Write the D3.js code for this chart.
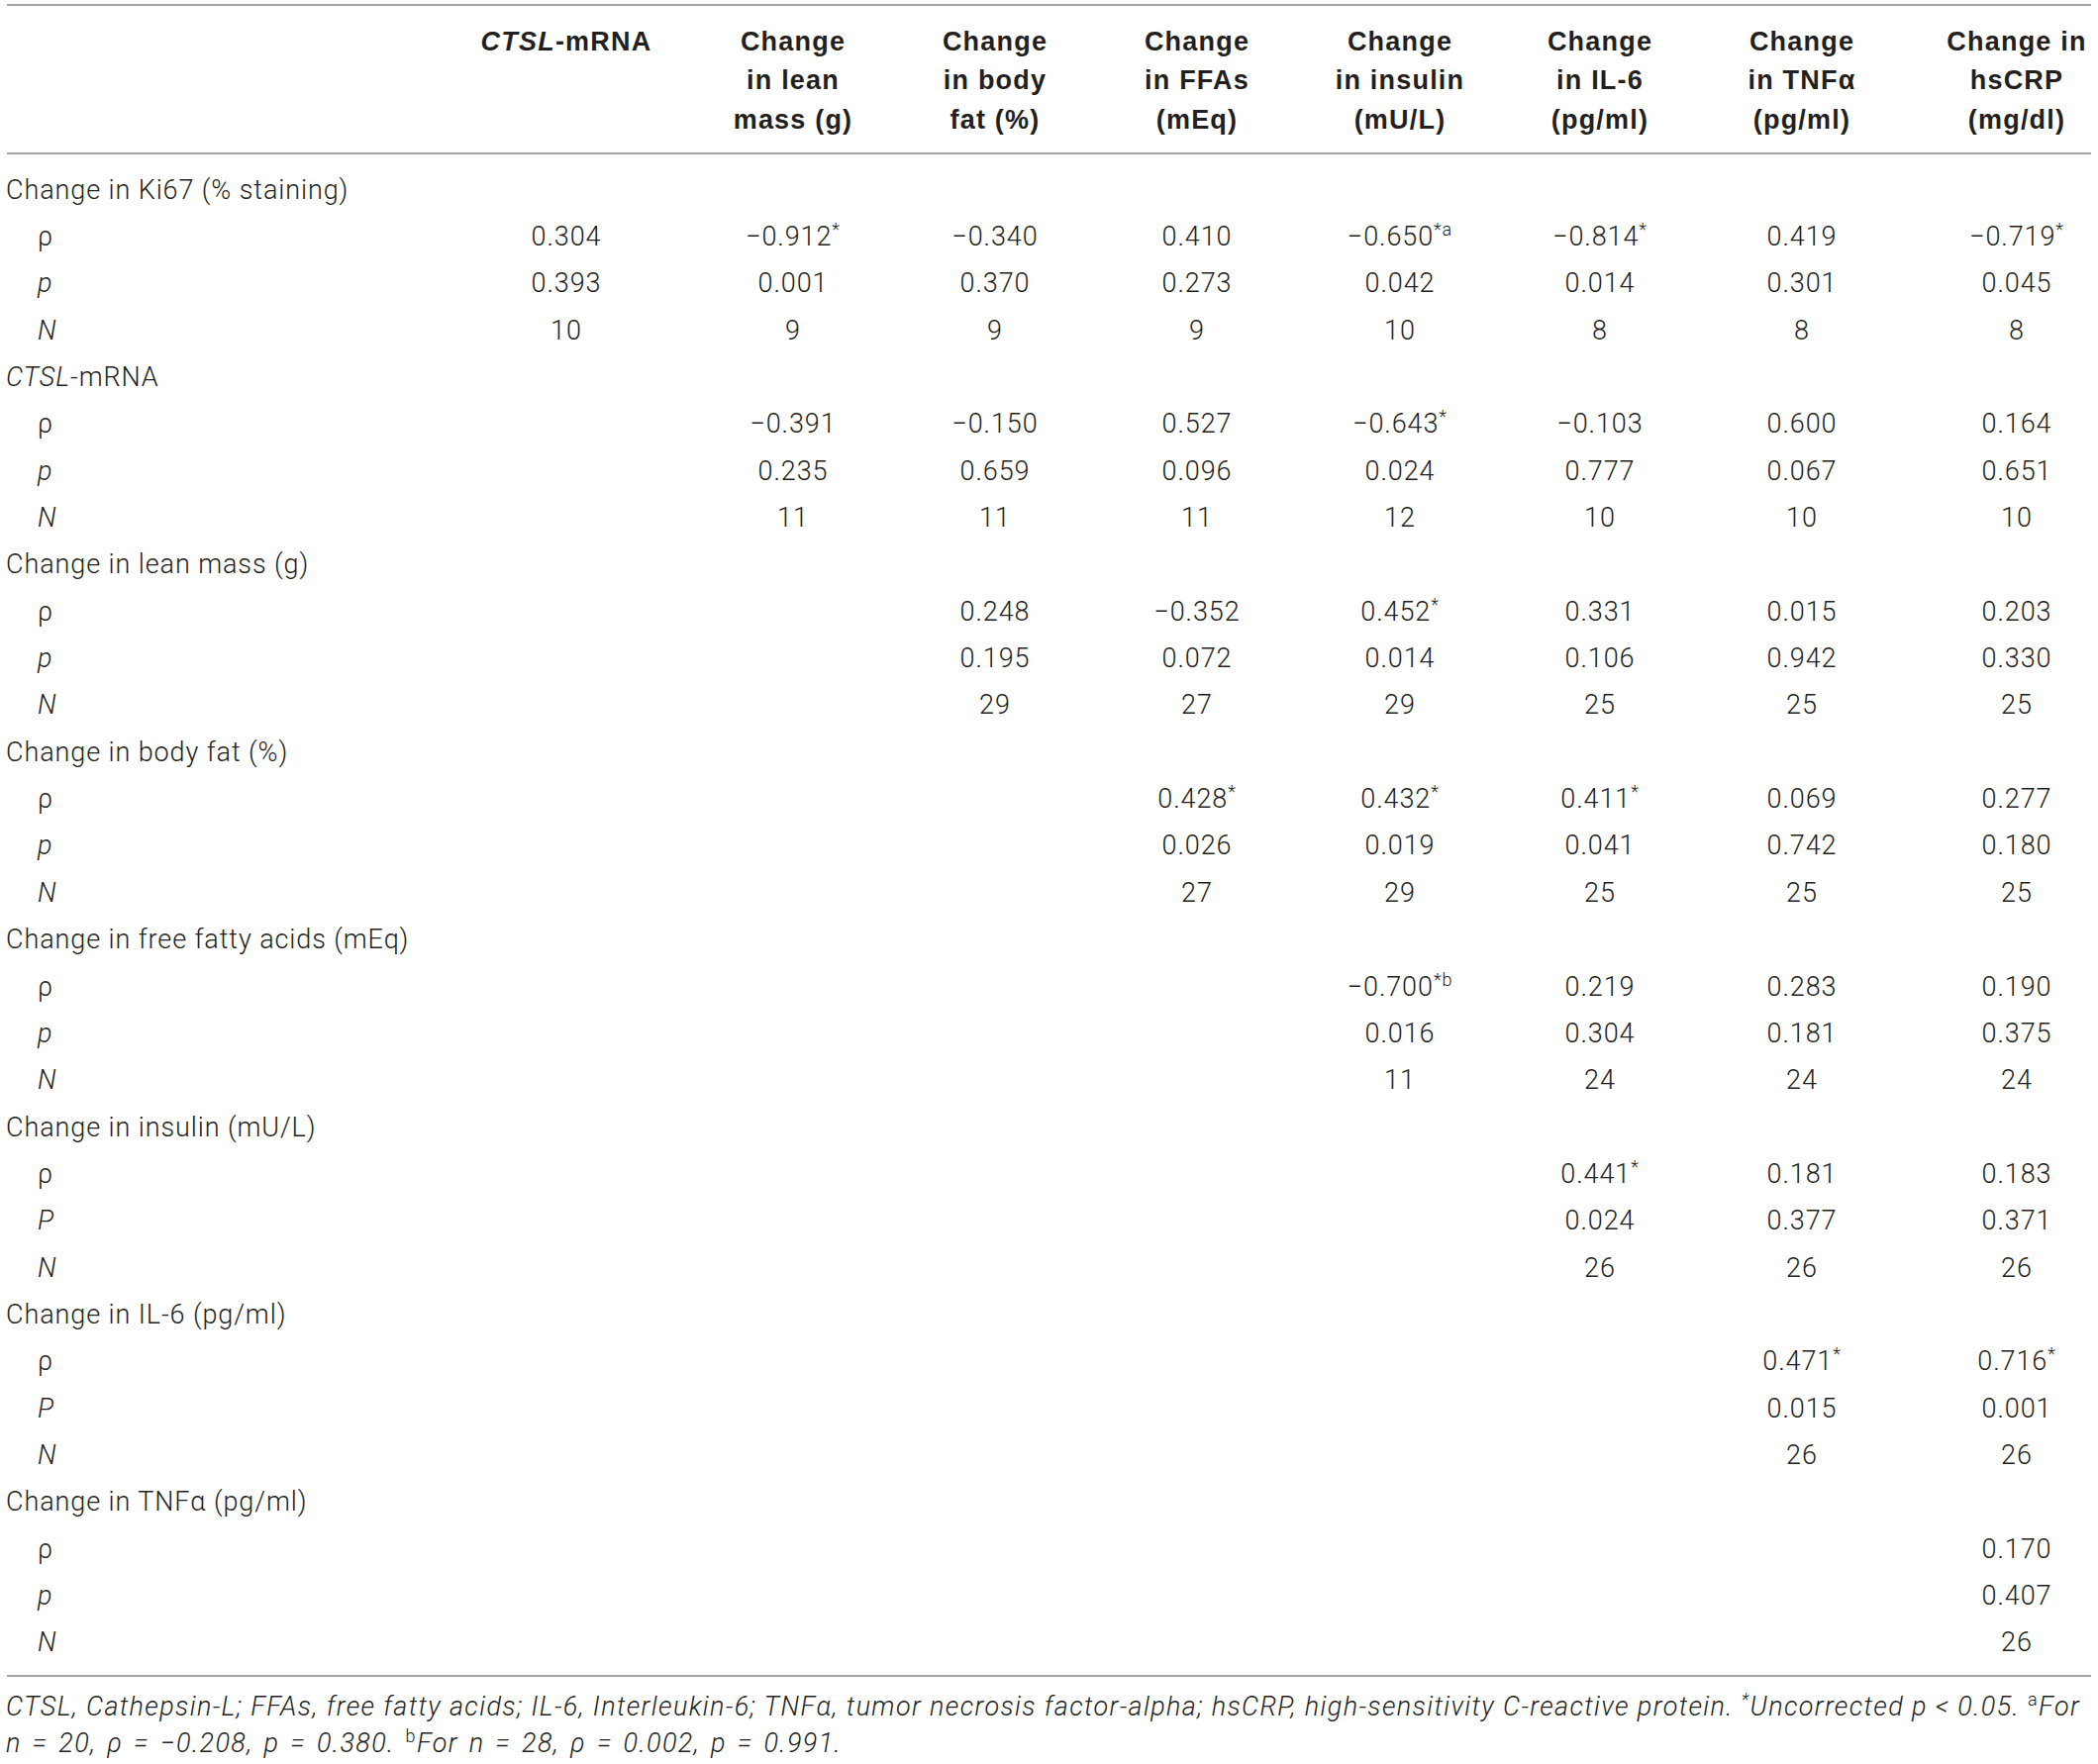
<!DOCTYPE html>
<html>
<head>
<meta charset="utf-8">
<script src="https://cdn.jsdelivr.net/npm/d3@7"></script>
<style>
  html, body { margin: 0; padding: 0; background: #fff; }
  svg text { fill: #231f20; }
  .body { font-family: Roboto, "Liberation Sans", sans-serif; font-weight: 300; font-size: 27px; letter-spacing: 0.9px; }
  .head { font-family: "Liberation Sans", Arial, sans-serif; font-weight: 700; font-size: 27px; letter-spacing: 1.2px; }
  .note { font-family: Roboto, "Liberation Sans", sans-serif; font-weight: 300; font-style: italic; font-size: 27px; letter-spacing: 1.35px; }
</style>
</head>
<body>
<script>
// Колонки таблицы (заголовки по строкам)
const columns = ["ctsl", "lean", "fat", "ffa", "insulin", "il6", "tnf", "crp"];
const headerLines = [
  [[{ t: "CTSL", i: true }, { t: "-mRNA" }]],
  [[{ t: "Change" }], [{ t: "in lean" }], [{ t: "mass (g)" }]],
  [[{ t: "Change" }], [{ t: "in body" }], [{ t: "fat (%)" }]],
  [[{ t: "Change" }], [{ t: "in FFAs" }], [{ t: "(mEq)" }]],
  [[{ t: "Change" }], [{ t: "in insulin" }], [{ t: "(mU/L)" }]],
  [[{ t: "Change" }], [{ t: "in IL-6" }], [{ t: "(pg/ml)" }]],
  [[{ t: "Change" }], [{ t: "in TNFα" }], [{ t: "(pg/ml)" }]],
  [[{ t: "Change in" }], [{ t: "hsCRP" }], [{ t: "(mg/dl)" }]]
];

// Группы строк
const groups = [
  [{ t: "Change in Ki67 (% staining)" }],
  [{ t: "CTSL", i: true }, { t: "-mRNA" }],
  [{ t: "Change in lean mass (g)" }],
  [{ t: "Change in body fat (%)" }],
  [{ t: "Change in free fatty acids (mEq)" }],
  [{ t: "Change in insulin (mU/L)" }],
  [{ t: "Change in IL-6 (pg/ml)" }],
  [{ t: "Change in TNFα (pg/ml)" }]
];
const pSymbols = ["p", "p", "p", "p", "p", "P", "P", "p"];

// Значения: ρ, p, N (null — пустая ячейка)
const rhoValues = [
  ["0.304", "−0.912", "−0.340", "0.410", "−0.650", "−0.814", "0.419", "−0.719"],
  [null, "−0.391", "−0.150", "0.527", "−0.643", "−0.103", "0.600", "0.164"],
  [null, null, "0.248", "−0.352", "0.452", "0.331", "0.015", "0.203"],
  [null, null, null, "0.428", "0.432", "0.411", "0.069", "0.277"],
  [null, null, null, null, "−0.700", "0.219", "0.283", "0.190"],
  [null, null, null, null, null, "0.441", "0.181", "0.183"],
  [null, null, null, null, null, null, "0.471", "0.716"],
  [null, null, null, null, null, null, null, "0.170"]
];
const rhoMarks = [
  [null, "*", null, null, "*a", "*", null, "*"],
  [null, null, null, null, "*", null, null, null],
  [null, null, null, null, "*", null, null, null],
  [null, null, null, "*", "*", "*", null, null],
  [null, null, null, null, "*b", null, null, null],
  [null, null, null, null, null, "*", null, null],
  [null, null, null, null, null, null, "*", "*"],
  [null, null, null, null, null, null, null, null]
];
const pValues = [
  ["0.393", "0.001", "0.370", "0.273", "0.042", "0.014", "0.301", "0.045"],
  [null, "0.235", "0.659", "0.096", "0.024", "0.777", "0.067", "0.651"],
  [null, null, "0.195", "0.072", "0.014", "0.106", "0.942", "0.330"],
  [null, null, null, "0.026", "0.019", "0.041", "0.742", "0.180"],
  [null, null, null, null, "0.016", "0.304", "0.181", "0.375"],
  [null, null, null, null, null, "0.024", "0.377", "0.371"],
  [null, null, null, null, null, null, "0.015", "0.001"],
  [null, null, null, null, null, null, null, "0.407"]
];
const nValues = [
  ["10", "9", "9", "9", "10", "8", "8", "8"],
  [null, "11", "11", "11", "12", "10", "10", "10"],
  [null, null, "29", "27", "29", "25", "25", "25"],
  [null, null, null, "27", "29", "25", "25", "25"],
  [null, null, null, null, "11", "24", "24", "24"],
  [null, null, null, null, null, "26", "26", "26"],
  [null, null, null, null, null, null, "26", "26"],
  [null, null, null, null, null, null, null, "26"]
];

// Примечание под таблицей
const noteLines = [
  [{ t: "CTSL, Cathepsin-L; FFAs, free fatty acids; IL-6, Interleukin-6; TNFα, tumor necrosis factor-alpha; hsCRP, high-sensitivity C-reactive protein. " },
   { t: "*", sup: true }, { t: "Uncorrected p < 0.05. " }, { t: "a", sup: true, up: true }, { t: "For" }],
  [{ t: "n = 20, ρ = −0.208, p = 0.380. " }, { t: "b", sup: true, up: true }, { t: "For n = 28, ρ = 0.002, p = 0.991." }]
];

// Размеры
const W = 2119, H = 1782;
const lineX = [7, 2112];
const x = d3.scaleOrdinal().domain(columns).range([572, 801, 1005, 1209, 1414, 1616, 1820, 2037]);
const y = d3.scaleLinear().domain([0, 31]).range([191, 191 + 31 * 47.34]);
const headY = d3.scaleLinear().domain([0, 2]).range([41, 120]);

const svg = d3.select("body").append("svg").attr("width", W).attr("height", H);

// Линии
svg.selectAll("line.rule")
  .data([5, 155, 1693])
  .enter().append("line")
  .attr("x1", lineX[0]).attr("x2", lineX[1])
  .attr("y1", d => d).attr("y2", d => d)
  .attr("stroke", "#a3a3a3").attr("stroke-width", 2);

// Вывод текста из кусочков
function addRuns(sel, runs, supSize) {
  runs.forEach(r => {
    const ts = sel.append("tspan").text(r.t);
    if (r.i) ts.attr("font-style", "italic");
    if (r.up) ts.attr("font-style", "normal");
    if (r.sup) ts.attr("baseline-shift", "super").attr("font-size", supSize);
  });
}

// Заголовки
columns.forEach((c, ci) => {
  headerLines[ci].forEach((runs, li) => {
    const t = svg.append("text").attr("class", "head")
      .attr("x", x(c)).attr("y", headY(li)).attr("dy", "0.36em")
      .attr("text-anchor", "middle");
    addRuns(t, runs, "18px");
  });
});

// Тело таблицы
groups.forEach((g, gi) => {
  const base = gi * 4;
  const lbl = svg.append("text").attr("class", "body")
    .attr("x", 6).attr("y", y(base)).attr("dy", "0.36em");
  addRuns(lbl, g, "18px");

  const stats = [
    { sym: "ρ", it: false, vals: rhoValues[gi], marks: rhoMarks[gi] },
    { sym: pSymbols[gi], it: true, vals: pValues[gi], marks: null },
    { sym: "N", it: true, vals: nValues[gi], marks: null }
  ];
  stats.forEach((s, si) => {
    const ry = y(base + 1 + si);
    svg.append("text").attr("class", "body")
      .attr("x", 38).attr("y", ry).attr("dy", "0.36em")
      .attr("font-style", s.it ? "italic" : "normal")
      .text(s.sym);
    const cells = columns.map((c, ci) => ({ c, v: s.vals[ci], m: s.marks ? s.marks[ci] : null }))
      .filter(d => d.v !== null);
    svg.selectAll(null).data(cells).enter().append("text")
      .attr("class", "body")
      .attr("x", d => x(d.c)).attr("y", ry).attr("dy", "0.36em")
      .attr("text-anchor", "middle")
      .each(function (d) {
        const t = d3.select(this);
        t.append("tspan").text(d.v);
        if (d.m) t.append("tspan").attr("baseline-shift", "super").attr("font-size", "18px").text(d.m);
      });
  });
});

// Примечание
noteLines.forEach((runs, li) => {
  const t = svg.append("text").attr("class", "note")
    .attr("x", 6).attr("y", 1723 + li * 37).attr("dy", "0.36em")
    .attr("word-spacing", li === 1 ? "3px" : null);
  addRuns(t, runs, "18px");
});
</script>
</body>
</html>
